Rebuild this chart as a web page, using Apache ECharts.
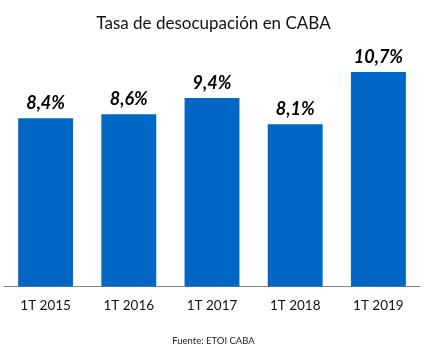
<!DOCTYPE html>
<html><head><meta charset="utf-8">
<script src="https://cdn.jsdelivr.net/npm/echarts@6/dist/echarts.min.js"></script>
<style>html,body{margin:0;padding:0;background:#fff}#c{width:427px;height:347px}</style>
</head><body><div id="c"></div>
<script>
const categories = ['1T 2015','1T 2016','1T 2017','1T 2018','1T 2019'];
const values = [8.4, 8.6, 9.4, 8.1, 10.7];
const titleText = 'Tasa de desocupación en CABA';
const sourceText = 'Fuente: ETOI CABA';
const FONT = 'Lato, "Open Sans", sans-serif';
const chart = echarts.init(document.getElementById('c'));
chart.setOption({
  animation: false,
  title: [
    {text: titleText, left: 'center', top: 10, textStyle: {fontFamily: FONT, fontWeight: 'normal', fontSize: 17, color: '#111'}},
    {text: sourceText, left: 'center', top: 331, textStyle: {fontFamily: FONT, fontWeight: 'normal', fontSize: 9.5, color: '#222'}}
  ],
  grid: {left: 4, right: 7, top: 46, height: 240.5, containLabel: false},
  xAxis: {type: 'category', data: categories,
    axisLine: {lineStyle: {color: '#888', width: 1}}, axisTick: {show: false},
    axisLabel: {fontFamily: FONT, fontSize: 13.5, color: '#111', margin: 12}},
  yAxis: {type: 'value', min: 0, max: 12, show: false, splitLine: {show: false}},
  series: [{type: 'bar', data: values, barCategoryGap: '34%',
    itemStyle: {color: '#0068C4'},
    label: {show: true, position: 'top', distance: 6, fontFamily: FONT, fontSize: 18, fontWeight: 'bold', fontStyle: 'italic', color: '#000',
      formatter: p => p.value.toFixed(1).replace('.', ',') + '%'}}]
});
</script></body></html>
